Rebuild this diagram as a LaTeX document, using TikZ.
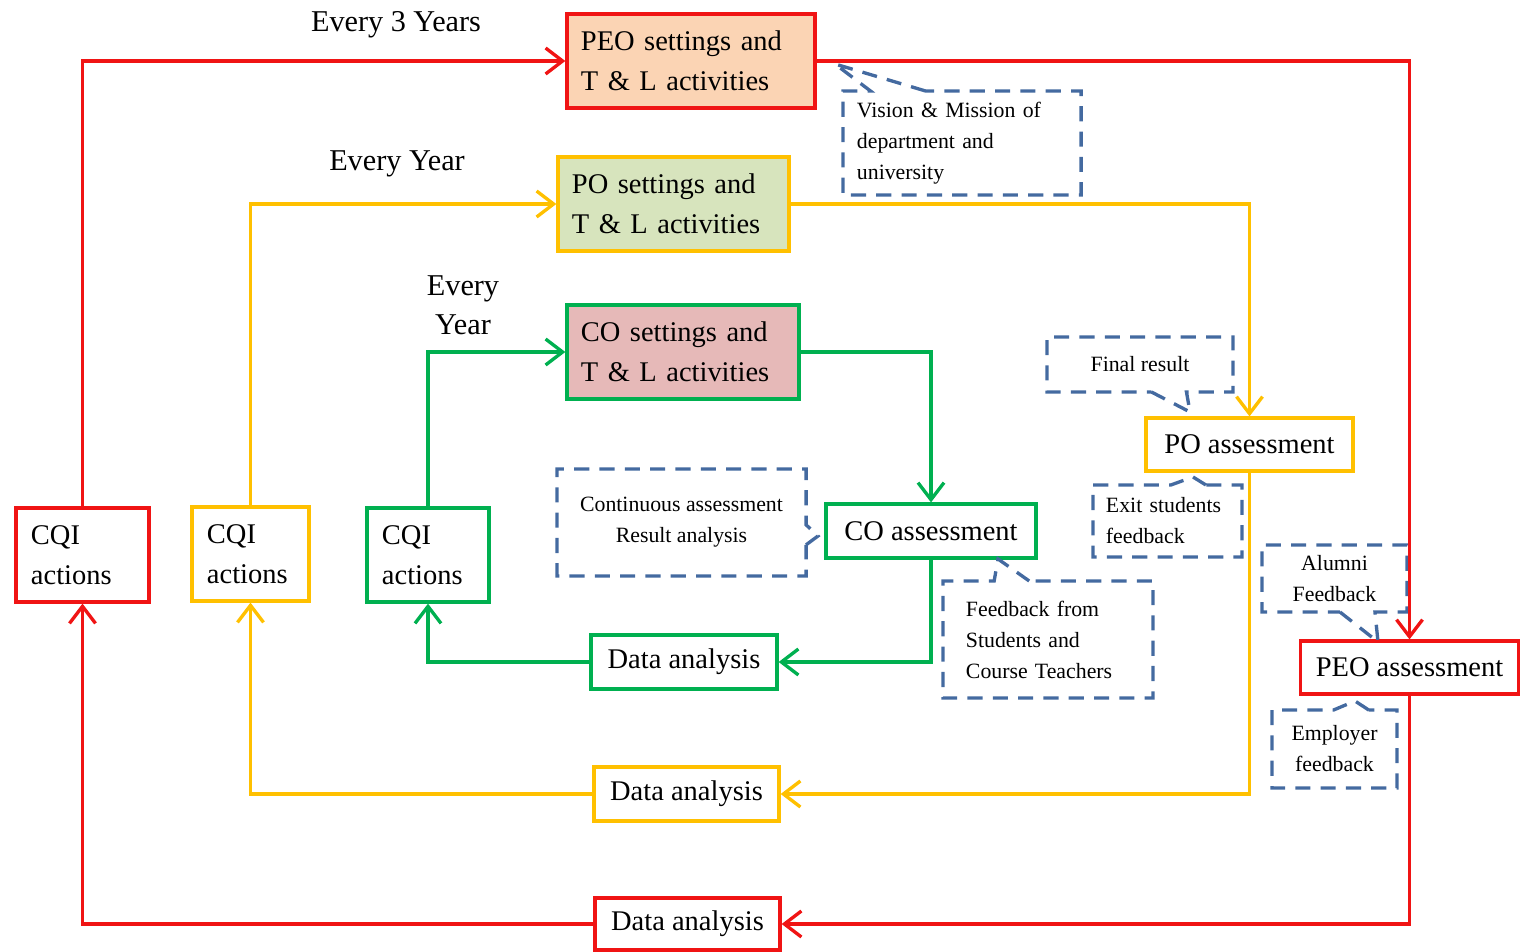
\documentclass[tikz,border=0pt]{standalone}
\usepackage{fontspec}
\setmainfont{Liberation Serif}
\usetikzlibrary{arrows.meta,shapes.callouts}
\definecolor{loopred}{RGB}{240,20,20}
\definecolor{loopyellow}{RGB}{255,192,0}
\definecolor{loopgreen}{RGB}{0,176,80}
\definecolor{peofill}{RGB}{251,212,180}
\definecolor{pofill}{RGB}{215,228,189}
\definecolor{cofill}{RGB}{230,185,184}
\definecolor{notecol}{RGB}{68,106,160}

\begin{document}
\begin{tikzpicture}[x=0.01cm, y=-0.01cm,
  box/.style = {draw, line width=0.9pt, align=left, inner ysep=0pt,
    font=\fontsize{8.1}{11.4}\selectfont},
  setbox/.style = {box, minimum height=0.94cm, inner xsep=0.14cm},
  cqibox/.style = {box, minimum height=0.94cm, inner xsep=0.15cm},
  stepbox/.style = {box, align=center, minimum height=0.54cm, inner xsep=0pt},
  note/.style = {rectangle callout, draw=notecol, line width=0.95pt,
    dash pattern=on 4.3pt off 2.9pt, inner ysep=0pt, align=center,
    font=\fontsize{6.2}{8.8}\selectfont, callout pointer width=0.35cm},
  period/.style = {align=center, font=\fontsize{8.6}{11.1}\selectfont},
  flow/.style = {line width=0.95pt, -{Straight Barb[length=1.7mm,width=2.6mm]}}
  ]
  \useasboundingbox (0,0) rectangle (1521,952);

  \node[period] (every3) at (396,25) {Every 3 Years};
  \node[period] (everyyr) at (397,164) {Every Year};
  \node[period] (everycoyr) at (463,305) {Every\\Year};

  \node[setbox, draw=loopred, fill=peofill, text width=2.2cm] (peoset) at (691,61) {PEO settings and\\T \& L activities};
  \node[setbox, draw=loopyellow, fill=pofill, text width=2.03cm] (poset) at (673.5,204) {PO settings and\\T \& L activities};
  \node[setbox, draw=loopgreen, fill=cofill, text width=2.04cm] (coset) at (683,352) {CO settings and\\T \& L activities};

  \node[cqibox, draw=loopred, text width=1.03cm] (cqired) at (82.5,555) {CQI\\actions};
  \node[cqibox, draw=loopyellow, text width=0.87cm] (cqiyellow) at (250.5,554) {CQI\\actions};
  \node[cqibox, draw=loopgreen, text width=0.92cm] (cqigreen) at (428,555) {CQI\\actions};

  \node[stepbox, draw=loopgreen, minimum width=2.10cm] (coass) at (931,531) {CO assessment};
  \node[stepbox, draw=loopyellow, minimum width=2.07cm, minimum height=0.53cm] (poass) at (1249.5,444.5) {PO assessment};
  \node[stepbox, draw=loopred, minimum width=2.18cm, minimum height=0.53cm] (peoass) at (1409.5,667.5) {PEO assessment};
  \node[stepbox, draw=loopgreen, minimum width=1.86cm] (datagreen) at (684,662) {Data analysis};
  \node[stepbox, draw=loopyellow, minimum width=1.85cm] (datayellow) at (686.5,794) {Data analysis};
  \node[stepbox, draw=loopred, minimum width=1.85cm, minimum height=0.52cm] (datared) at (687.5,924) {Data analysis};

  % callouts
  \coordinate (visiontip) at (835,64);
  \coordinate (conttip) at (818,536);
  \coordinate (finaltip) at (1190,412);
  \coordinate (exittip) at (1193,477);
  \coordinate (feedtip) at (998,559);
  \coordinate (alumnitip) at (1378,642);
  \coordinate (employertip) at (1355,701);
  \node[note, align=left, text width=2.1cm, inner xsep=0.14cm, minimum height=1.04cm,
    callout pointer width=0.55cm, callout absolute pointer={(visiontip)}] (vision) at (962,143)
    {Vision \& Mission of\\department and\\university};
  \node[note, minimum width=2.49cm, minimum height=1.07cm, callout pointer width=0.2cm,
    callout absolute pointer={(conttip)}] (contass) at (681.5,522.5)
    {Continuous assessment\\Result analysis};
  \node[note, minimum width=1.86cm, minimum height=0.55cm,
    callout absolute pointer={(finaltip)}] (finalres) at (1140,364.5) {Final result};
  \node[note, align=left, text width=1.23cm, inner xsep=0.13cm, minimum height=0.72cm,
    callout absolute pointer={(exittip)}] (exitfb) at (1167.5,521) {Exit students\\feedback};
  \node[note, align=left, text width=1.64cm, inner xsep=0.23cm, minimum height=1.17cm,
    callout absolute pointer={(feedtip)}] (coursefb) at (1048,639.5)
    {Feedback from\\Students and\\Course Teachers};
  \node[note, minimum width=1.45cm, minimum height=0.67cm,
    callout absolute pointer={(alumnitip)}] (alumnifb) at (1334.5,578.5) {Alumni\\Feedback};
  \node[note, minimum width=1.25cm, minimum height=0.78cm,
    callout absolute pointer={(employertip)}] (employerfb) at (1334.5,749) {Employer\\feedback};

  % PEO loop
  \draw[flow, loopred] (cqired.north) |- (peoset.west);
  \draw[flow, loopred] (peoset.east) -| (peoass.north);
  \draw[flow, loopred] (peoass.south) |- (datared.east);
  \draw[flow, loopred] (datared.west) -| (cqired.south);
  % PO loop
  \draw[flow, loopyellow] (cqiyellow.north) |- (poset.west);
  \draw[flow, loopyellow] (poset.east) -| (poass.north);
  \draw[flow, loopyellow] (poass.south) |- (datayellow.east);
  \draw[flow, loopyellow] (datayellow.west) -| (cqiyellow.south);
  % CO loop
  \draw[flow, loopgreen] (cqigreen.north) |- (coset.west);
  \draw[flow, loopgreen] (coset.east) -| (coass.north);
  \draw[flow, loopgreen] (coass.south) |- (datagreen.east);
  \draw[flow, loopgreen] (datagreen.west) -| (cqigreen.south);
\end{tikzpicture}
\end{document}
